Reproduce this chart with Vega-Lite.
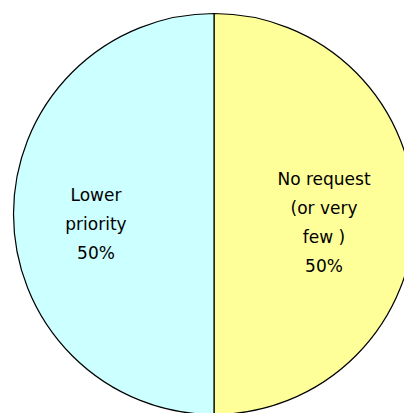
{
  "$schema": "https://vega.github.io/schema/vega-lite/v6.json",
  "width": 380,
  "height": 398,
  "padding": {"left": 24, "top": 15, "right": 0, "bottom": 0},
  "autosize": {"type": "none"},
  "background": "#ffffff",
  "config": {"view": {"stroke": null}},
  "data": {
    "values": [
      {"response": "No request\n(or very\nfew )", "share": 50},
      {"response": "Lower\npriority", "share": 50}
    ]
  },
  "transform": [
    {"calculate": "datum.response + '\\n' + datum.share + '%'", "as": "label"}
  ],
  "encoding": {
    "theta": {"field": "share", "type": "quantitative", "stack": true},
    "order": {"field": "response", "sort": "descending"},
    "color": {
      "field": "response",
      "type": "nominal",
      "scale": {
        "domain": ["No request\n(or very\nfew )", "Lower\npriority"],
        "range": ["#FFFF99", "#CCFFFF"]
      },
      "legend": null
    }
  },
  "layer": [
    {
      "mark": {"type": "arc", "radius": 200.5, "stroke": "#000000", "strokeWidth": 1.2}
    },
    {
      "transform": [
        {"calculate": "datum.response === 'Lower\\npriority' ? datum.label : ''", "as": "shown"}
      ],
      "mark": {
        "type": "text",
        "radius": 114,
        "dx": -4,
        "dy": -18,
        "align": "center",
        "baseline": "middle",
        "lineBreak": "\n",
        "lineHeight": 29,
        "font": "DejaVu Sans",
        "fontSize": 17,
        "fill": "#000000"
      },
      "encoding": {
        "text": {"field": "shown", "type": "nominal"},
        "color": {"value": "#000000"}
      }
    },
    {
      "transform": [
        {"calculate": "datum.response === 'Lower\\npriority' ? '' : datum.label", "as": "shown"}
      ],
      "mark": {
        "type": "text",
        "radius": 114,
        "dx": -4,
        "dy": -34,
        "align": "center",
        "baseline": "middle",
        "lineBreak": "\n",
        "lineHeight": 29,
        "font": "DejaVu Sans",
        "fontSize": 17,
        "fill": "#000000"
      },
      "encoding": {
        "text": {"field": "shown", "type": "nominal"},
        "color": {"value": "#000000"}
      }
    }
  ]
}
